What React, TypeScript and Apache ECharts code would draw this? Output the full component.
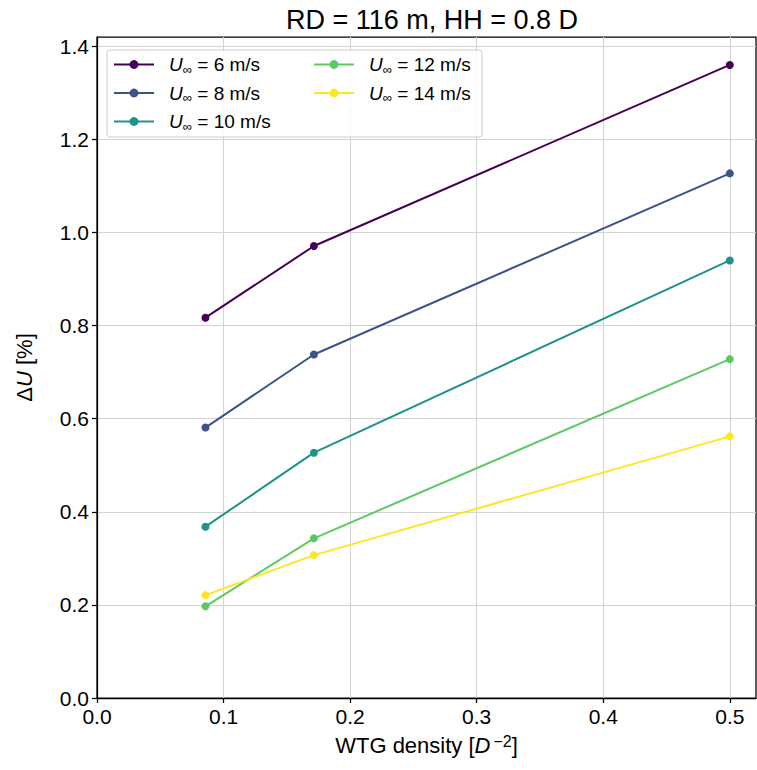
import React, { useEffect, useRef } from "react";
import * as echarts from "echarts";

const xValues = [0.0857, 0.1714, 0.5];
const seriesNames = ["U∞ = 6 m/s", "U∞ = 8 m/s", "U∞ = 10 m/s", "U∞ = 12 m/s", "U∞ = 14 m/s"];
const u6 = [0.817, 0.971, 1.36];
const u8 = [0.581, 0.738, 1.127];
const u10 = [0.368, 0.527, 0.94];
const u12 = [0.197, 0.343, 0.728];
const u14 = [0.221, 0.307, 0.562];
const colors = ["#440154", "#3b528b", "#21918c", "#5ec962", "#fde725"];
const yTicks = [0, 0.2, 0.4, 0.6, 0.8, 1.0, 1.2, 1.4];
const xTicks = [0, 0.1, 0.2, 0.3, 0.4, 0.5];
const titleText = "RD = 116 m, HH = 0.8 D";

const FONT = "Liberation Sans, Arial, sans-serif";

export default function App() {
  const ref = useRef<HTMLDivElement>(null);
  useEffect(() => {
    if (!ref.current) return;
    const chart = echarts.init(ref.current, null, { renderer: "svg" });
    const allData = [u6, u8, u10, u12, u14];
    const series = allData.map((vals, i) => ({
      name: seriesNames[i],
      type: "line",
      data: vals.map((v, j) => [xValues[j], v]),
      symbol: "circle",
      symbolSize: 8,
      lineStyle: { color: colors[i], width: 2 },
      itemStyle: { color: colors[i] },
      z: 3,
    }));
    const legendRich = {
      i: { fontStyle: "italic", fontSize: 19, fontFamily: FONT, color: "#000", lineHeight: 22, padding: [0, 0, 0, 10] },
      s: { fontSize: 13, fontFamily: FONT, color: "#000", lineHeight: 13, verticalAlign: "bottom" },
      t: { fontSize: 19, fontFamily: FONT, color: "#000", lineHeight: 22 },
    };
    const legendFmt = (name: string) => `{i|U}{s|∞}{t|${name.slice(2)}}`;
    const legendCommon = {
      orient: "vertical",
      itemWidth: 40,
      itemHeight: 11,
      itemGap: 8,
      formatter: legendFmt,
      textStyle: { rich: legendRich, fontSize: 19, fontFamily: FONT },
      selectedMode: false,
      padding: 0,
    };
    chart.setOption({
      animation: false,
      backgroundColor: "#fff",
      title: {
        text: titleText,
        left: 427,
        textAlign: "center",
        top: 1,
        textStyle: { fontSize: 27, fontWeight: "normal", fontFamily: FONT, color: "#000" },
      },
      grid: {
        left: 97,
        right: 1,
        top: 37,
        bottom: 72,
        show: true,
        borderColor: "#000",
        borderWidth: 1.25,
        backgroundColor: "transparent",
      },
      graphic: [
        {
          type: "rect",
          shape: { x: 107, y: 50, width: 375, height: 87, r: 3 },
          style: { fill: "rgba(255,255,255,0.85)", stroke: "#cccccc", lineWidth: 1 },
          z: 50,
        },
      ],
      legend: [
        { ...legendCommon, data: seriesNames.slice(0, 3), left: 113, top: 55, z: 60 },
        { ...legendCommon, data: seriesNames.slice(3), left: 313, top: 55, z: 60 },
      ],
      xAxis: {
        type: "value",
        min: 0,
        max: 0.5207,
        name: "WTG density [{i|D}{sup|−2}]",
        nameLocation: "middle",
        nameGap: 35,
        nameTextStyle: {
          fontSize: 22,
          fontFamily: FONT,
          color: "#000",
          rich: {
            i: { fontStyle: "italic", fontSize: 22, fontFamily: FONT, color: "#000", lineHeight: 24, padding: [0, 3, 0, 0] },
            sup: { fontSize: 16, fontFamily: FONT, color: "#000", lineHeight: 14, verticalAlign: "top" },
          },
        },
        axisLine: { show: true, lineStyle: { color: "#000", width: 1.25 } },
        axisTick: { show: true, length: 5, lineStyle: { color: "#000", width: 1.25 }, customValues: xTicks },
        axisLabel: {
          customValues: xTicks,
          formatter: (v: number) => v.toFixed(1),
          fontSize: 21,
          fontFamily: FONT,
          color: "#000",
          margin: 8,
        },
        splitLine: { show: true, lineStyle: { color: "#d3d3d3", width: 1 } },
      },
      yAxis: {
        type: "value",
        min: 0,
        max: 1.42,
        name: "{d|Δ}{i|U} [%]",
        nameLocation: "middle",
        nameGap: 62,
        nameRotate: 90,
        nameTextStyle: {
          fontSize: 22,
          fontFamily: FONT,
          color: "#000",
          rich: {
            d: { fontSize: 22, fontFamily: FONT, color: "#000" },
            i: { fontStyle: "italic", fontSize: 22, fontFamily: FONT, color: "#000" },
          },
        },
        axisLine: { show: true, lineStyle: { color: "#000", width: 1.25 } },
        axisTick: { show: true, length: 5, lineStyle: { color: "#000", width: 1.25 }, customValues: yTicks },
        axisLabel: {
          customValues: yTicks,
          formatter: (v: number) => v.toFixed(1),
          fontSize: 21,
          fontFamily: FONT,
          color: "#000",
          margin: 8,
        },
        splitLine: { show: true, lineStyle: { color: "#d3d3d3", width: 1 } },
      },
      series,
    });
    return () => chart.dispose();
  }, []);
  return <div ref={ref} style={{ width: 757, height: 770, position: "absolute", left: 0, top: 0 }} />;
}
